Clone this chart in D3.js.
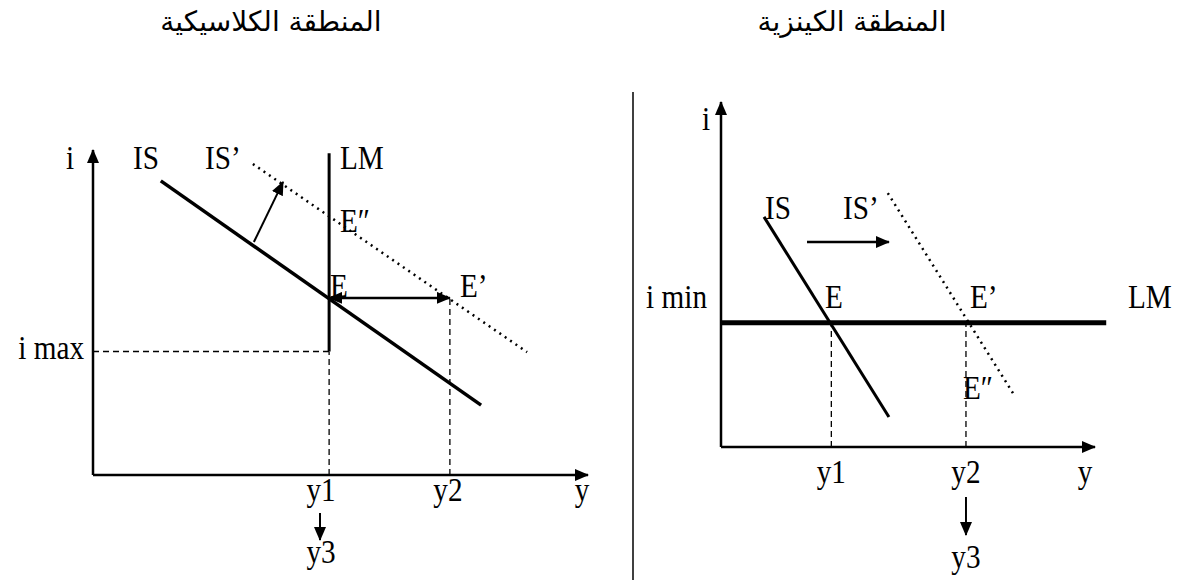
<!DOCTYPE html>
<html><head><meta charset="utf-8">
<script src="https://cdn.jsdelivr.net/npm/d3@7"></script>
<style>
html,body{margin:0;padding:0;background:#fff;}
svg{display:block;}
.lbl{font-family:"Liberation Serif","Times New Roman",serif;font-size:34px;fill:#000;}
.ttl{font-family:"DejaVu Sans",sans-serif;font-size:28px;fill:#000;}
</style></head>
<body>
<svg id="c" width="1186" height="580"></svg>
<script>
// ---------- DATA (diagram units, 0..100 on each axis) ----------
const titles = ["المنطقة الكلاسيكية", "المنطقة الكينزية"];

// Classical zone (left)
const leftIS = [[13.7, 90.5], [78.4, 21.5]];
const leftISPrime = [[32.3, 95.7], [87.7, 37.8]];
const leftLM = [[47.7, 38], [47.7, 99]];
const leftIMax = 38;
const leftY1 = 47.7;
const leftY2 = 72.1;
const leftE = [47.7, 54.5];
const leftEPrime = [72.1, 54.5];
const leftShift = [[32.5, 71.7], [38.4, 90.2]];
const leftTicks = ["y1", "y2"];

// Keynesian zone (right)
const rightIS = [[11.5, 66.7], [44.9, 8.7]];
const rightISPrime = [[44.6, 73.6], [78.7, 14.5]];
const rightLM = [[0, 36], [103, 36]];
const rightIMin = 36;
const rightY1 = 29.5;
const rightY2 = 65.5;
const rightShift = [[23, 59.4], [44.9, 59.4]];
const rightTicks = ["y1", "y2"];

// ---------- DRAW ----------
const svg = d3.select("#c");
const defs = svg.append("defs");
defs.append("marker").attr("id", "ah").attr("markerUnits", "userSpaceOnUse")
  .attr("viewBox", "0 0 14 12").attr("refX", 13).attr("refY", 6)
  .attr("markerWidth", 14).attr("markerHeight", 12).attr("orient", "auto-start-reverse")
  .append("path").attr("d", "M0,0 L14,6 L0,12 Z").attr("fill", "#000");

const line = (sx, sy) => d3.line().x(d => sx(d[0])).y(d => sy(d[1]));

function seg(g, sx, sy, pts, w, dash, mEnd, mStart) {
  const p = g.append("path").attr("d", line(sx, sy)(pts))
    .attr("fill", "none").attr("stroke", "#000").attr("stroke-width", w);
  if (dash) p.attr("stroke-dasharray", dash);
  if (mEnd) p.attr("marker-end", "url(#ah)");
  if (mStart) p.attr("marker-start", "url(#ah)");
  return p;
}
function txt(g, x, y, s, anchor) {
  g.append("text").attr("class", "lbl")
    .attr("transform", `translate(${x},${y}) scale(0.86,1)`)
    .attr("text-anchor", anchor || "start").text(s);
}
function ttl(g, x, y, s) {
  g.append("text").attr("x", x).attr("y", y).attr("class", "ttl")
    .attr("text-anchor", "middle").text(s);
}

// titles
ttl(svg, 271, 31, titles[0]);
ttl(svg, 852, 31, titles[1]);

// divider
svg.append("line").attr("x1", 633).attr("x2", 633).attr("y1", 92).attr("y2", 580)
  .attr("stroke", "#000").attr("stroke-width", 1.5);

// ---------- LEFT ----------
{
  const x = d3.scaleLinear().domain([0, 100]).range([93, 588]);
  const y = d3.scaleLinear().domain([0, 100]).range([475, 150]);
  const g = svg.append("g");
  seg(g, x, y, [[0, 0], [0, 100]], 2.5, null, true);
  seg(g, x, y, [[0, 0], [100, 0]], 2.5, null, true);
  seg(g, x, y, [[0, leftIMax], [leftY1, leftIMax]], 1.3, "6,4");
  seg(g, x, y, [[leftY1, 0], [leftY1, leftIMax]], 1.3, "6,4");
  seg(g, x, y, [[leftY2, 0], [leftY2, leftEPrime[1]]], 1.3, "6,4");
  seg(g, x, y, leftISPrime, 2.5, "2,4.5");
  seg(g, x, y, leftLM, 3);
  seg(g, x, y, leftIS, 3.5);
  seg(g, x, y, leftShift, 2, null, true);
  seg(g, x, y, [leftE, leftEPrime], 2.5, null, true, true);
  g.append("line").attr("x1", 320).attr("x2", 320).attr("y1", 513).attr("y2", 540)
    .attr("stroke", "#000").attr("stroke-width", 2).attr("marker-end", "url(#ah)");
  txt(g, x(0) - 27, 169, "i");
  txt(g, 133, 169, "IS");
  txt(g, 205, 169, "IS’");
  txt(g, 340, 169, "LM");
  txt(g, 340, 232, "E″");
  txt(g, 330, 297, "E");
  txt(g, 460, 297, "E’");
  txt(g, 84, 359, "i max", "end");
  txt(g, x(leftY1) - 8, 501, leftTicks[0], "middle");
  txt(g, x(leftY2) - 2, 501, leftTicks[1], "middle");
  txt(g, 582, 501, "y", "middle");
  txt(g, 321, 563, "y3", "middle");
}

// ---------- RIGHT ----------
{
  const x = d3.scaleLinear().domain([0, 100]).range([721, 1095]);
  const y = d3.scaleLinear().domain([0, 100]).range([447, 102]);
  const g = svg.append("g");
  seg(g, x, y, [[0, 0], [0, 100]], 2.5, null, true);
  seg(g, x, y, [[0, 0], [100, 0]], 2.5, null, true);
  seg(g, x, y, [[rightY1, 0], [rightY1, rightIMin]], 1.3, "6,4");
  seg(g, x, y, [[rightY2, 0], [rightY2, rightIMin]], 1.3, "6,4");
  seg(g, x, y, rightISPrime, 2.5, "2,4.5");
  seg(g, x, y, rightLM, 5);
  seg(g, x, y, rightIS, 3);
  seg(g, x, y, rightShift, 2.5, null, true);
  g.append("line").attr("x1", x(rightY2)).attr("x2", x(rightY2)).attr("y1", 497).attr("y2", 535)
    .attr("stroke", "#000").attr("stroke-width", 2).attr("marker-end", "url(#ah)");
  txt(g, 702, 130, "i");
  txt(g, 765, 219, "IS");
  txt(g, 843, 219, "IS’");
  txt(g, 707, 308, "i min", "end");
  txt(g, 825, 308, "E");
  txt(g, 970, 308, "E’");
  txt(g, 1128, 308, "LM");
  txt(g, 963, 399, "E″");
  txt(g, x(rightY1), 483, rightTicks[0], "middle");
  txt(g, x(rightY2), 483, rightTicks[1], "middle");
  txt(g, 1085, 483, "y", "middle");
  txt(g, x(rightY2), 568, "y3", "middle");
}
</script>
</body></html>
